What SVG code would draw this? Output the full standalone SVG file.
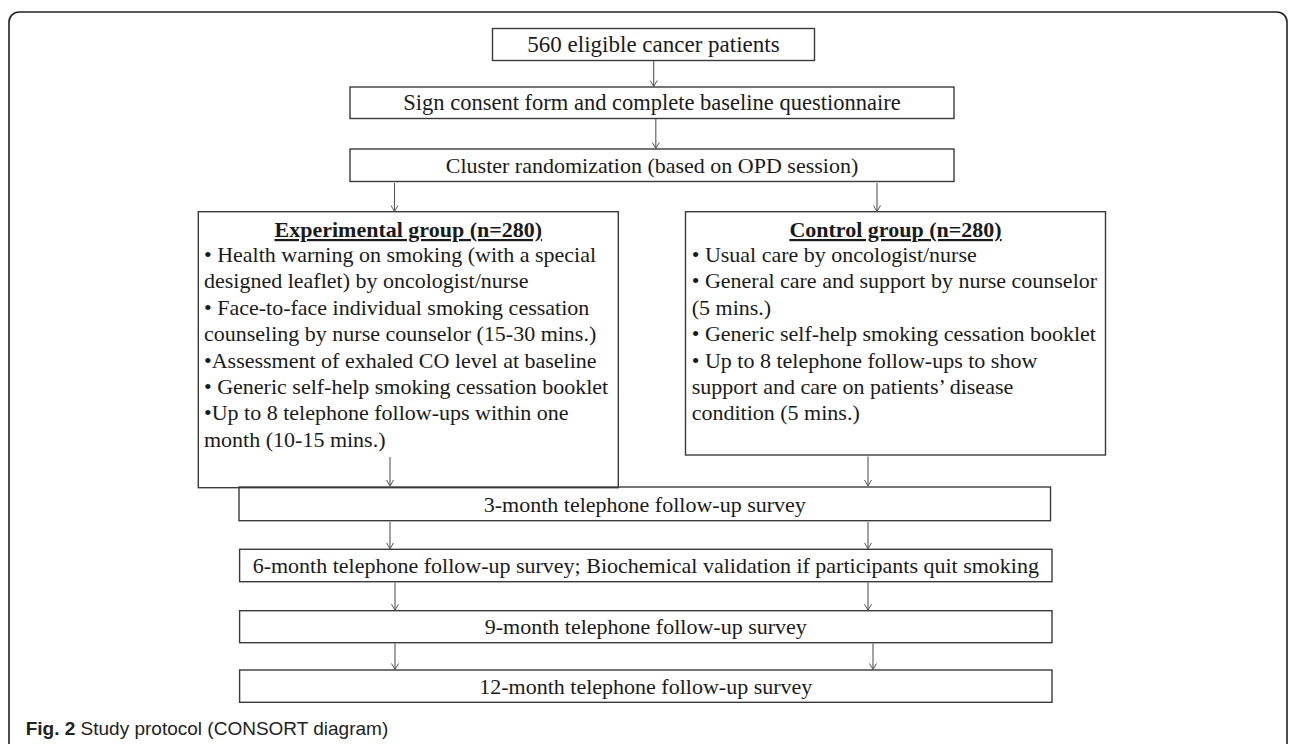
<svg xmlns="http://www.w3.org/2000/svg" width="1292" height="744" viewBox="0 0 1292 744">
<style>
.box{fill:none;stroke:#3a3a3a;stroke-width:1.4}
.t{font-family:"Liberation Serif","Times New Roman",serif;font-size:22px;fill:#1a1a1a}
.c{text-anchor:middle}
.h{font-weight:bold;text-decoration:underline}
.arr{stroke:#555;stroke-width:1.1;fill:none;marker-end:url(#ah)}
.cap{font-family:"Liberation Sans",Arial,sans-serif;font-size:19px;fill:#222}
</style>
<defs>
<marker id="ah" markerUnits="userSpaceOnUse" markerWidth="10" markerHeight="10" viewBox="-5 -8 10 10" refX="0" refY="0" orient="auto-start-reverse" overflow="visible">
<path d="M-3.5,-6 L0,0 L3.5,-6" transform="rotate(-90)" fill="none" stroke="#555" stroke-width="1"/>
</marker>
</defs>
<path id="frame" d="M9,744 V22 A10,10 0 0 1 19,12 H1277 A10,10 0 0 1 1287,22 V744" fill="none" stroke="#222" stroke-width="1.6"/>
<g id="n1"><rect class="box" x="492.5" y="28.5" width="322" height="32"/><text class="t c" x="653.5" y="52" style="font-size:23px">560 eligible cancer patients</text></g>
<g id="n2"><rect class="box" x="350" y="87" width="604" height="31.5"/><text class="t c" x="652" y="110" style="font-size:22.5px">Sign consent form and complete baseline questionnaire</text></g>
<g id="n3"><rect class="box" x="350" y="149" width="604" height="32.5"/><text class="t c" x="652" y="173">Cluster randomization (based on OPD session)</text></g>
<g id="exp"><rect class="box" x="198.3" y="211.7" width="420" height="276"/>
<text class="t c h" x="408.3" y="237">Experimental group (n=280)</text>
<text class="t" x="204" y="262">• Health warning on smoking (with a special</text>
<text class="t" x="204" y="288.4">designed leaflet) by oncologist/nurse</text>
<text class="t" x="204" y="314.8">• Face-to-face individual smoking cessation</text>
<text class="t" x="204" y="341.2">counseling by nurse counselor (15-30 mins.)</text>
<text class="t" x="204" y="367.6">•Assessment of exhaled CO level at baseline</text>
<text class="t" x="204" y="394">• Generic self-help smoking cessation booklet</text>
<text class="t" x="204" y="420.4">•Up to 8 telephone follow-ups within one</text>
<text class="t" x="204" y="446.8">month (10-15 mins.)</text>
</g>
<g id="ctl"><rect class="box" x="685.5" y="211.7" width="420" height="243.3"/>
<text class="t c h" x="895.5" y="237">Control group (n=280)</text>
<text class="t" x="691.7" y="262">• Usual care by oncologist/nurse</text>
<text class="t" x="691.7" y="288.4">• General care and support by nurse counselor</text>
<text class="t" x="691.7" y="314.8">(5 mins.)</text>
<text class="t" x="691.7" y="341.2">• Generic self-help smoking cessation booklet</text>
<text class="t" x="691.7" y="367.6">• Up to 8 telephone follow-ups to show</text>
<text class="t" x="691.7" y="394">support and care on patients’ disease</text>
<text class="t" x="691.7" y="420.4">condition (5 mins.)</text>
</g>
<g id="m3"><rect class="box" x="239" y="487" width="811.5" height="33.7"/><text class="t c" x="644.8" y="511.5">3-month telephone follow-up survey</text></g>
<g id="m6"><rect class="box" x="239.6" y="549.3" width="812.4" height="32.4"/><text class="t c" x="645.8" y="573">6-month telephone follow-up survey; Biochemical validation if participants quit smoking</text></g>
<g id="m9"><rect class="box" x="239.6" y="610.7" width="812.4" height="32"/><text class="t c" x="645.8" y="634">9-month telephone follow-up survey</text></g>
<g id="m12"><rect class="box" x="239.6" y="670" width="812.4" height="32.3"/><text class="t c" x="645.8" y="693.5">12-month telephone follow-up survey</text></g>
<g id="connectors">
<line class="arr" x1="653.7" y1="61" x2="653.7" y2="86.5"/>
<line class="arr" x1="655.8" y1="119" x2="655.8" y2="148.5"/>
<line class="arr" x1="394.5" y1="183" x2="394.5" y2="211.5"/>
<line class="arr" x1="877" y1="183" x2="877" y2="211.5"/>
<line class="arr" x1="390" y1="457" x2="390" y2="486"/>
<line class="arr" x1="868" y1="456.5" x2="868" y2="486"/>
<line class="arr" x1="390" y1="522" x2="390" y2="548.8"/>
<line class="arr" x1="868" y1="522" x2="868" y2="548.8"/>
<line class="arr" x1="395" y1="582.5" x2="395" y2="610.2"/>
<line class="arr" x1="868" y1="582.5" x2="868" y2="610.2"/>
<line class="arr" x1="395" y1="643.5" x2="395" y2="669.5"/>
<line class="arr" x1="873" y1="643.5" x2="873" y2="669.5"/>
</g>
<text class="cap" x="25.7" y="735"><tspan font-weight="bold">Fig. 2</tspan> Study protocol (CONSORT diagram)</text>
</svg>
